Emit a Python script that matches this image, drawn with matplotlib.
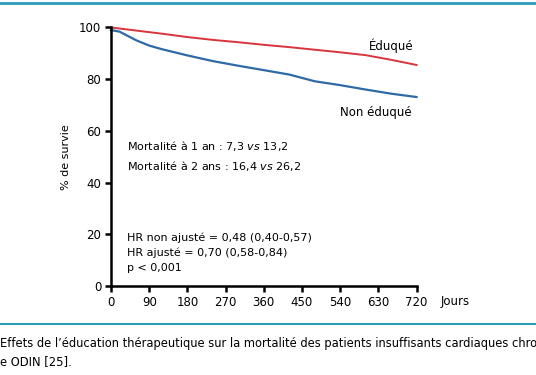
#! /usr/bin/env python3
# survival curves, educated vs non educated patients (ODIN)

import matplotlib
matplotlib.use("Agg")
import matplotlib.pyplot as plt
from matplotlib.lines import Line2D

# days of follow-up
days = [0, 20, 60, 90, 120, 180, 240, 300, 360, 420, 480, 540, 600, 660, 720]
# % survival, educated
eduque = [100, 99.6, 98.8, 98.2, 97.6, 96.3, 95.2, 94.3, 93.3, 92.4, 91.4, 90.4, 89.3, 87.5, 85.5]
# % survival, not educated
non_eduque = [99.0, 98.4, 95.0, 93.0, 91.6, 89.2, 87.0, 85.2, 83.5, 81.8, 79.2, 77.7, 76.0, 74.4, 73.1]

x_ticks = [0, 90, 180, 270, 360, 450, 540, 630, 720]
y_ticks = [0, 20, 40, 60, 80, 100]

red = "#d9343c"
blue = "#2f6aa6"
teal = "#2b9db4"

plt.rcParams["font.family"] = ["DejaVu Sans"]
plt.rcParams["font.size"] = 8

fig = plt.figure(figsize=(5.36, 3.75), dpi=100)
ax = fig.add_axes([0.2071, 0.2373, 0.57, 0.6894])

ax.plot(days, eduque, color=red, lw=1.4, clip_on=False)
ax.plot(days, non_eduque, color=blue, lw=1.6, clip_on=False)

ax.set_xlim(0, 720)
ax.set_ylim(0, 100)
ax.set_xticks(x_ticks)
ax.set_yticks(y_ticks)
for s in ["top", "right"]:
    ax.spines[s].set_visible(False)
for s in ["left", "bottom"]:
    ax.spines[s].set_linewidth(1.8)
ax.tick_params(width=1.8, length=4, color="black", labelsize=8.5, pad=3)

ax.set_ylabel("% de survie", fontsize=8, labelpad=6)
ax.text(1.128, -0.058, "Jours", transform=ax.transAxes, fontsize=8.5, ha="center", va="center")

# labels for the curves
ax.text(713, 92.8, "Éduqué", fontsize=8.5, ha="right", va="center")
ax.text(708, 67.3, "Non éduqué", fontsize=8.5, ha="right", va="center")

# statistics
ax.text(38, 54, "Mortalité à 1 an : 7,3 $\\it{vs}$ 13,2", fontsize=8, va="center")
ax.text(38, 46.5, "Mortalité à 2 ans : 16,4 $\\it{vs}$ 26,2", fontsize=8, va="center")
ax.text(38, 18.5, "HR non ajusté = 0,48 (0,40-0,57)", fontsize=8, va="center")
ax.text(38, 12.8, "HR ajusté = 0,70 (0,58-0,84)", fontsize=8, va="center")
ax.text(38, 7.0, "p < 0,001", fontsize=8, va="center")

# frame lines and caption (cut at the right edge, as in the source page)
fig.add_artist(Line2D([0, 1], [0.992, 0.992], color=teal, lw=2, transform=fig.transFigure))
fig.add_artist(Line2D([0, 1], [0.136, 0.136], color=teal, lw=1.5, transform=fig.transFigure))
fig.text(0.0, 0.083, "Effets de l’éducation thérapeutique sur la mortalité des patients insuffisants cardiaques chro",
         fontsize=8.3, va="center", ha="left")
fig.text(0.0, 0.037, "e ODIN [25].", fontsize=8.3, va="center", ha="left")

fig.savefig("out.png", dpi=100)
